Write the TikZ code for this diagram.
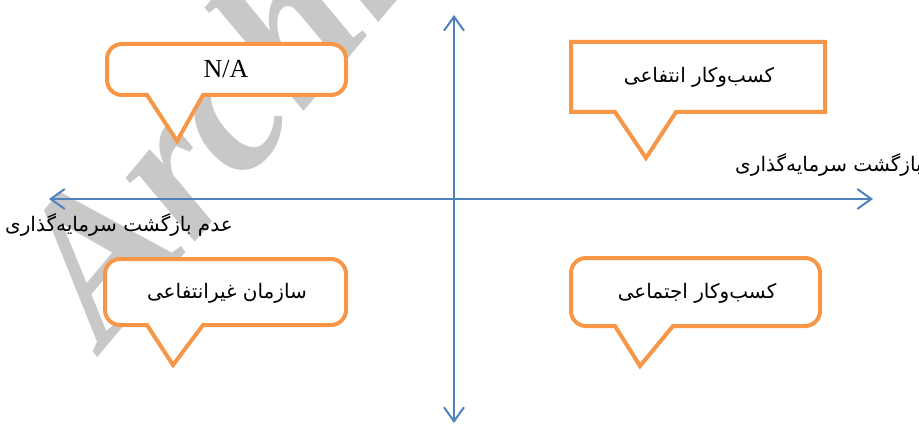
\documentclass[tikz,border=0pt]{standalone}
\usepackage{fontspec}
\setmainfont{Liberation Serif}
\newfontfamily\fa[Script=Arabic]{DejaVu Sans}
\TeXXeTstate=1
\usetikzlibrary{arrows.meta}
\definecolor{calloutorange}{HTML}{F79646}
\definecolor{axisblue}{HTML}{4F81BD}
\definecolor{wmgray}{HTML}{C8C8C8}
\begin{document}
\begin{tikzpicture}[x=1pt,y=-1pt,
  callout/.style={draw=calloutorange, line width=4pt, fill=white, line join=miter},
  axisline/.style={draw=axisblue, line width=2pt,
    {Straight Barb[length=14pt,width=20pt]}-{Straight Barb[length=14pt,width=20pt]}},
  persian/.style={font=\fa\fontsize{20}{24}\selectfont, text=black, inner sep=0pt},
  latinlabel/.style={font=\fontsize{26}{30}\selectfont, text=black, inner sep=0pt},
]
\useasboundingbox (0,0) rectangle (919,425);
\clip (0,0) rectangle (919,425);
% watermark
\node[rotate=50, anchor=base west, text=wmgray, inner sep=0pt,
  font=\fontsize{205}{205}\selectfont\bfseries\itshape] (wm) at (104,350) {Archive};
% axes
\coordinate (xl) at (49,199);
\coordinate (xr) at (873,199);
\coordinate (yt) at (454,15);
\coordinate (yb) at (454,423);
\draw[axisline] (xl) -- (xr);
\draw[axisline] (yt) -- (yb);
% callouts
\draw[callout] (147,95) -- (177,141) -- (203,95) [rounded corners=15pt] -- (346,95) -- (346,44) -- (107,44) -- (107,95) [sharp corners] -- cycle;
\draw[callout] (615,112) -- (646,158) -- (676,112) -- (825,112) -- (825,42) -- (571,42) -- (571,112) -- cycle;
\draw[callout] (147,325) -- (173,365) -- (203,325) [rounded corners=15pt] -- (346,325) -- (346,259) -- (105,259) -- (105,325) [sharp corners] -- cycle;
\draw[callout] (615,326) -- (640,366) -- (673,326) [rounded corners=15pt] -- (820,326) -- (820,258) -- (571,258) -- (571,326) [sharp corners] -- cycle;
% texts
\node[latinlabel] (na) at (226,69) {N/A};
\node[persian] (tr) at (699,77) {\beginR کسب^^^^200cوکار انتفاعی\endR};
\node[persian] (bl) at (227,293) {\beginR سازمان غیرانتفاعی\endR};
\node[persian] (br) at (697,293) {\beginR کسب^^^^200cوکار اجتماعی\endR};
\node[persian, anchor=west] (rlab) at (735,165) {\beginR بازگشت سرمایه^^^^200cگذاری\endR};
\node[persian, anchor=east] (llab) at (233,225) {\beginR عدم بازگشت سرمایه^^^^200cگذاری\endR};
\end{tikzpicture}
\end{document}
